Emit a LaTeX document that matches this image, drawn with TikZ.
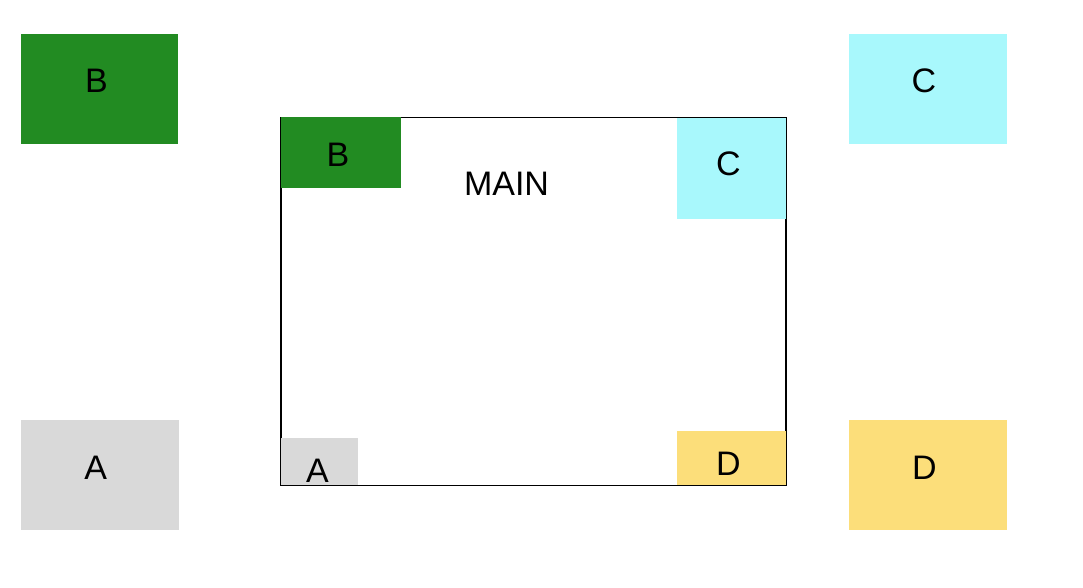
\documentclass[tikz,border=0pt]{standalone}
\usepackage{fontspec}
\setmainfont{Liberation Sans}
\definecolor{cgreen}{HTML}{228B22}
\definecolor{ccyan}{HTML}{A8F8FC}
\definecolor{cgray}{HTML}{D9D9D9}
\definecolor{cyellow}{HTML}{FCDE7A}
\begin{document}
\begin{tikzpicture}[x=0.75pt,y=-0.75pt,
  box/.style={rectangle, draw=none, inner sep=0pt, outer sep=0pt},
  lbl/.style={inner sep=0pt, font=\fontsize{25.5}{30}\selectfont, text=black},
  mainbox/.style={rectangle, draw=black, line width=0.8pt, fill=white, inner sep=0pt}]
\useasboundingbox (0,0) rectangle (1083,588);
% outer boxes
\node[box, fill=cgreen, minimum width=157*0.75pt, minimum height=110*0.75pt] (bOut) at (99.6,89) {};
\node[box, fill=ccyan, minimum width=157.5*0.75pt, minimum height=110*0.75pt] (cOut) at (928,89) {};
\node[box, fill=cgray, minimum width=157.5*0.75pt, minimum height=110*0.75pt] (aOut) at (99.8,475) {};
\node[box, fill=cyellow, minimum width=157.5*0.75pt, minimum height=110*0.75pt] (dOut) at (928,475) {};
\node[lbl] (bOutT) at (96.5,81) {B};
\node[lbl] (cOutT) at (924,81) {C};
\node[lbl] (aOutT) at (95.7,467.5) {A};
\node[lbl] (dOutT) at (924.5,467.5) {D};
% main box
\node[mainbox, minimum width=505*0.75pt, minimum height=367.7*0.75pt] (main) at (533.5,301.2) {};
\node[lbl] (mainT) at (506.5,183.7) {MAIN};
% inner boxes
\node[box, fill=cgreen, minimum width=120*0.75pt, minimum height=71*0.75pt] (bIn) at (341,152.5) {};
\node[box, fill=ccyan, minimum width=109*0.75pt, minimum height=100.5*0.75pt] (cIn) at (731.5,168.75) {};
\node[box, fill=cgray, minimum width=76.7*0.75pt, minimum height=46.7*0.75pt] (aIn) at (319.35,461.65) {};
\node[box, fill=cyellow, minimum width=109*0.75pt, minimum height=54.5*0.75pt] (dIn) at (731.5,457.75) {};
\node[lbl] (bInT) at (338,155) {B};
\node[lbl] (cInT) at (728.5,164) {C};
\node[lbl] (aInT) at (317.5,470.5) {A};
\node[lbl] (dInT) at (728.5,464) {D};
\end{tikzpicture}
\end{document}
